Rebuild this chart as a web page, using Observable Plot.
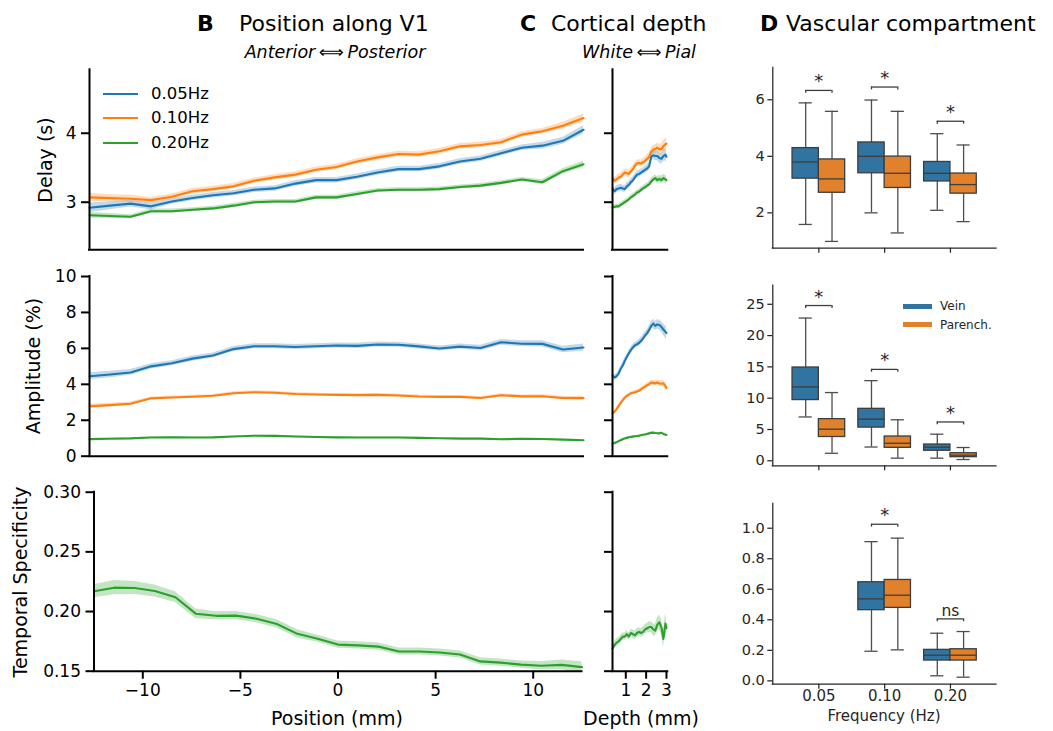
<!DOCTYPE html>
<html><head><meta charset="utf-8">
<script src="https://cdn.jsdelivr.net/npm/d3@7"></script>
<script src="https://cdn.jsdelivr.net/npm/@observablehq/plot@0.6"></script>
<style>
body{margin:0;background:#fff;}
#fig{position:relative;width:1053px;height:731px;overflow:hidden;font-family:"DejaVu Sans",sans-serif;color:#000;background:#fff;}
#fig svg{position:absolute;left:0;top:0;}
.lbl{position:absolute;white-space:nowrap;line-height:1;}
.sw{position:absolute;}
</style></head><body><div id="fig"></div>
<script>
// ---------------- DATA ----------------
const freqNames = ["0.05Hz", "0.10Hz", "0.20Hz"];
const seriesColors = ["#1f77b4", "#ff7f0e", "#2ca02c"];

// Panel B: position along V1 (mm)
const posB = [-12.5, -11.46, -10.42, -9.38, -8.33, -7.29, -6.25, -5.21, -4.17, -3.13, -2.08, -1.04, 0, 1.04, 2.08, 3.13, 4.17, 5.21, 6.25, 7.29, 8.33, 9.38, 10.42, 11.46, 12.5];
const delayB05 = [2.92, 2.95, 2.98, 2.94, 3.01, 3.06, 3.10, 3.13, 3.18, 3.20, 3.27, 3.32, 3.32, 3.37, 3.43, 3.48, 3.48, 3.52, 3.59, 3.63, 3.71, 3.79, 3.82, 3.89, 4.05];
const delayB10 = [3.07, 3.06, 3.05, 3.03, 3.08, 3.16, 3.19, 3.23, 3.31, 3.36, 3.40, 3.47, 3.51, 3.59, 3.65, 3.70, 3.69, 3.74, 3.81, 3.83, 3.87, 3.98, 4.03, 4.11, 4.22];
const delayB20 = [2.81, 2.80, 2.79, 2.87, 2.87, 2.89, 2.91, 2.95, 3.00, 3.01, 3.01, 3.07, 3.07, 3.12, 3.17, 3.18, 3.18, 3.19, 3.22, 3.24, 3.28, 3.33, 3.29, 3.45, 3.55];
const delayB05Err = [0.07, 0.06, 0.05, 0.05, 0.04, 0.04, 0.04, 0.04, 0.04, 0.04, 0.04, 0.04, 0.04, 0.04, 0.04, 0.04, 0.04, 0.04, 0.04, 0.04, 0.04, 0.04, 0.05, 0.05, 0.06];
const delayB10Err = [0.06, 0.05, 0.05, 0.04, 0.04, 0.04, 0.04, 0.04, 0.04, 0.04, 0.04, 0.04, 0.04, 0.04, 0.04, 0.04, 0.04, 0.04, 0.04, 0.04, 0.04, 0.04, 0.04, 0.05, 0.06];
const delayB20Err = [0.04, 0.035, 0.03, 0.03, 0.03, 0.03, 0.03, 0.03, 0.03, 0.03, 0.03, 0.03, 0.03, 0.03, 0.03, 0.03, 0.03, 0.03, 0.03, 0.03, 0.03, 0.03, 0.035, 0.04, 0.045];
const ampB05 = [4.45, 4.55, 4.66, 5.00, 5.17, 5.43, 5.60, 5.96, 6.12, 6.12, 6.08, 6.12, 6.16, 6.14, 6.22, 6.20, 6.11, 5.99, 6.10, 6.02, 6.34, 6.26, 6.25, 5.94, 6.05];
const ampB10 = [2.78, 2.84, 2.92, 3.22, 3.27, 3.31, 3.36, 3.50, 3.56, 3.53, 3.46, 3.43, 3.41, 3.40, 3.41, 3.38, 3.32, 3.30, 3.30, 3.24, 3.39, 3.33, 3.34, 3.24, 3.23];
const ampB20 = [0.95, 0.97, 0.99, 1.04, 1.05, 1.04, 1.05, 1.10, 1.14, 1.13, 1.10, 1.07, 1.05, 1.04, 1.04, 1.04, 1.02, 1.00, 0.98, 0.98, 0.94, 0.97, 0.96, 0.92, 0.89];
const ampB05Err = [0.2, 0.18, 0.16, 0.15, 0.14, 0.14, 0.14, 0.14, 0.14, 0.14, 0.14, 0.14, 0.14, 0.14, 0.14, 0.14, 0.14, 0.14, 0.14, 0.15, 0.16, 0.16, 0.17, 0.18, 0.2];
const ampB10Err = [0.12, 0.1, 0.09, 0.08, 0.08, 0.08, 0.08, 0.08, 0.08, 0.08, 0.08, 0.08, 0.08, 0.08, 0.08, 0.08, 0.08, 0.08, 0.08, 0.08, 0.08, 0.08, 0.09, 0.1, 0.1];
const ampB20Err = [0.04, 0.04, 0.03, 0.03, 0.03, 0.03, 0.03, 0.03, 0.03, 0.03, 0.03, 0.03, 0.03, 0.03, 0.03, 0.03, 0.03, 0.03, 0.03, 0.03, 0.03, 0.03, 0.03, 0.03, 0.04];
const tsB20 = [0.2170, 0.2200, 0.2197, 0.2172, 0.2120, 0.1982, 0.1964, 0.1966, 0.1940, 0.1896, 0.1813, 0.1772, 0.1723, 0.1716, 0.1706, 0.1665, 0.1665, 0.1657, 0.1640, 0.1582, 0.1572, 0.1555, 0.1546, 0.1553, 0.1534];
const tsB20Err = [0.0055, 0.006, 0.0055, 0.005, 0.0045, 0.004, 0.0035, 0.0035, 0.0035, 0.0035, 0.0035, 0.003, 0.003, 0.003, 0.003, 0.003, 0.003, 0.003, 0.003, 0.003, 0.003, 0.003, 0.0035, 0.004, 0.0045];

// Panel C: cortical depth (mm)
const depthC = [0.35, 0.45, 0.55, 0.65, 0.75, 0.85, 0.95, 1.05, 1.15, 1.25, 1.35, 1.45, 1.55, 1.65, 1.75, 1.85, 1.95, 2.05, 2.15, 2.25, 2.35, 2.45, 2.55, 2.65, 2.75, 2.85, 2.95, 3.0];
const delayC05 = [3.19, 3.16, 3.19, 3.20, 3.21, 3.20, 3.19, 3.23, 3.25, 3.29, 3.32, 3.36, 3.40, 3.41, 3.43, 3.45, 3.47, 3.49, 3.52, 3.66, 3.68, 3.67, 3.67, 3.64, 3.63, 3.67, 3.69, 3.66];
const delayC10 = [3.35, 3.31, 3.33, 3.36, 3.37, 3.40, 3.43, 3.42, 3.41, 3.45, 3.48, 3.53, 3.56, 3.57, 3.56, 3.58, 3.60, 3.63, 3.66, 3.73, 3.76, 3.77, 3.79, 3.77, 3.77, 3.81, 3.84, 3.85];
const delayC20 = [2.93, 2.93, 2.94, 2.94, 2.96, 2.98, 3.00, 3.02, 3.04, 3.07, 3.09, 3.11, 3.14, 3.15, 3.18, 3.20, 3.22, 3.24, 3.26, 3.30, 3.33, 3.35, 3.32, 3.34, 3.32, 3.35, 3.33, 3.32];
const delayC05Err = [0.05, 0.05, 0.05, 0.05, 0.05, 0.05, 0.05, 0.05, 0.05, 0.05, 0.05, 0.05, 0.05, 0.05, 0.05, 0.05, 0.055, 0.055, 0.06, 0.06, 0.06, 0.065, 0.07, 0.07, 0.075, 0.08, 0.09, 0.09];
const delayC10Err = [0.05, 0.05, 0.05, 0.05, 0.05, 0.05, 0.05, 0.05, 0.05, 0.05, 0.05, 0.05, 0.05, 0.05, 0.05, 0.05, 0.055, 0.055, 0.06, 0.06, 0.06, 0.065, 0.07, 0.07, 0.075, 0.08, 0.085, 0.09];
const delayC20Err = [0.035, 0.035, 0.035, 0.035, 0.035, 0.035, 0.035, 0.035, 0.035, 0.035, 0.035, 0.035, 0.035, 0.035, 0.04, 0.04, 0.04, 0.04, 0.04, 0.045, 0.045, 0.05, 0.05, 0.05, 0.055, 0.055, 0.06, 0.06];
const ampC05 = [4.48, 4.38, 4.45, 4.60, 4.85, 5.05, 5.30, 5.52, 5.72, 5.90, 6.05, 6.17, 6.23, 6.30, 6.42, 6.55, 6.72, 6.85, 7.03, 7.25, 7.38, 7.25, 7.33, 7.30, 7.20, 7.05, 6.92, 6.85];
const ampC10 = [2.38, 2.48, 2.62, 2.80, 2.97, 3.12, 3.25, 3.35, 3.42, 3.50, 3.53, 3.55, 3.60, 3.64, 3.72, 3.80, 3.87, 3.95, 4.00, 4.10, 4.08, 4.05, 4.10, 4.05, 4.03, 4.06, 3.90, 3.80];
const ampC20 = [0.70, 0.73, 0.78, 0.84, 0.89, 0.94, 0.99, 1.02, 1.05, 1.07, 1.09, 1.11, 1.12, 1.14, 1.17, 1.19, 1.21, 1.24, 1.27, 1.30, 1.31, 1.29, 1.28, 1.27, 1.30, 1.24, 1.20, 1.18];
const ampC05Err = [0.15, 0.15, 0.15, 0.15, 0.15, 0.15, 0.16, 0.16, 0.16, 0.17, 0.17, 0.17, 0.18, 0.18, 0.18, 0.19, 0.2, 0.2, 0.21, 0.22, 0.24, 0.25, 0.27, 0.28, 0.3, 0.32, 0.34, 0.35];
const ampC10Err = [0.08, 0.08, 0.08, 0.08, 0.08, 0.08, 0.09, 0.09, 0.09, 0.09, 0.09, 0.1, 0.1, 0.1, 0.1, 0.1, 0.11, 0.11, 0.12, 0.12, 0.13, 0.13, 0.14, 0.15, 0.16, 0.17, 0.18, 0.19];
const ampC20Err = [0.04, 0.04, 0.04, 0.04, 0.04, 0.04, 0.04, 0.04, 0.04, 0.04, 0.04, 0.04, 0.04, 0.04, 0.04, 0.04, 0.04, 0.04, 0.045, 0.045, 0.05, 0.05, 0.05, 0.05, 0.05, 0.055, 0.06, 0.06];
const tsC20 = [0.169, 0.172, 0.174, 0.175, 0.177, 0.179, 0.179, 0.181, 0.179, 0.182, 0.181, 0.180, 0.182, 0.183, 0.182, 0.183, 0.185, 0.186, 0.187, 0.187, 0.185, 0.184, 0.189, 0.191, 0.187, 0.177, 0.190, 0.186];
const tsC20Err = [0.003, 0.003, 0.003, 0.003, 0.003, 0.003, 0.003, 0.003, 0.003, 0.003, 0.0035, 0.0035, 0.0035, 0.0035, 0.0035, 0.004, 0.004, 0.004, 0.0045, 0.0045, 0.005, 0.005, 0.0055, 0.006, 0.0065, 0.007, 0.008, 0.008];

// Panel D: boxplots [whiskerLow, Q1, median, Q3, whiskerHigh] for 0.05, 0.10, 0.20 Hz
const boxFreqs = ["0.05", "0.10", "0.20"];
const compartments = ["Vein", "Parench."];
const compColors = ["#3274a1", "#e1812c"];
const delayVein = [[1.59, 3.21, 3.80, 4.29, 5.89], [2.00, 3.40, 4.00, 4.49, 5.99], [2.09, 3.11, 3.40, 3.80, 4.80]];
const delayParench = [[0.99, 2.71, 3.20, 3.89, 5.59], [1.29, 2.88, 3.40, 3.99, 5.59], [1.69, 2.68, 3.00, 3.39, 4.40]];
const delaySig = [6.33, 6.45, 5.24];
const delaySigText = ["*", "*", "*"];
const ampVein = [[7.0, 9.7, 11.8, 14.9, 22.8], [2.2, 5.3, 6.65, 8.3, 12.8], [0.42, 1.6, 2.17, 2.6, 4.25]];
const ampParench = [[1.2, 3.8, 5.05, 6.65, 10.9], [0.42, 2.07, 2.8, 3.88, 6.55], [0.2, 0.58, 0.9, 1.21, 2.12]];
const ampSig = [24.8, 14.6, 6.2];
const ampSigText = ["*", "*", "*"];
const tsVein = [null, [0.194, 0.463, 0.537, 0.646, 0.912], [0.033, 0.133, 0.168, 0.203, 0.312]];
const tsParench = [null, [0.203, 0.478, 0.561, 0.661, 0.935], [0.024, 0.133, 0.168, 0.207, 0.323]];
const tsSig = [null, 1.026, 0.406];
const tsSigText = [null, "*", "ns"];

// ---------------- DRAWING ----------------
const W = 1053, H = 731;
const fig = document.getElementById("fig");

function place(rect, opts) {
  const [x0, y0, x1, y1] = rect;
  const svg = Plot.plot({
    width: W, height: H,
    marginLeft: x0, marginRight: W - x1, marginTop: y0, marginBottom: H - y1,
    style: {background: "transparent", fontFamily: "DejaVu Sans, sans-serif", overflow: "visible", color: "black"},
    ...opts
  });
  fig.appendChild(svg);
}

function rowsOf(xs, ys, es) {
  return xs.map((x, i) => ({x, y: ys[i], lo: ys[i] - es[i], hi: ys[i] + es[i]}));
}
function lineMarks(xs, list) {
  return list.flatMap(([ys, es, c]) => {
    const d = rowsOf(xs, ys, es);
    return [
      Plot.areaY(d, {x: "x", y1: "lo", y2: "hi", fill: c, fillOpacity: 0.28}),
      Plot.line(d, {x: "x", y: "y", stroke: c, strokeWidth: 2.1})
    ];
  });
}
function spines(xmin, ymin, c, w) {
  return [
    Plot.ruleX([xmin], {stroke: c, strokeWidth: w, strokeLinecap: "square"}),
    Plot.ruleY([ymin], {stroke: c, strokeWidth: w, strokeLinecap: "square"})
  ];
}
const fmtInt = d3.format("d");
const blank = () => "";
const yAxisB = (ticks, fmt) => Plot.axisY({ticks, tickFormat: fmt, tickSize: 8, tickPadding: 5, fontSize: 17, strokeWidth: 2, label: null});

const xB = {domain: [-12.5, 12.5]};
const xC = {domain: [0.346, 3.065]};
const yDelay = [2.31, 4.92], yAmp = [0, 10], yTS = [0.15, 0.30];

// B row 1
place([89, 69.3, 583, 249.3], {
  x: {...xB, axis: null}, y: {domain: yDelay},
  marks: [...lineMarks(posB, [[delayB05, delayB05Err, seriesColors[0]], [delayB10, delayB10Err, seriesColors[1]], [delayB20, delayB20Err, seriesColors[2]]]),
    yAxisB([3, 4], fmtInt), ...spines(-12.5, yDelay[0], "black", 2)]
});
// B row 2
place([89, 276, 583, 455.7], {
  x: {...xB, axis: null}, y: {domain: yAmp},
  marks: [...lineMarks(posB, [[ampB05, ampB05Err, seriesColors[0]], [ampB10, ampB10Err, seriesColors[1]], [ampB20, ampB20Err, seriesColors[2]]]),
    yAxisB([0, 2, 4, 6, 8, 10], fmtInt), ...spines(-12.5, 0, "black", 2)]
});
// B row 3
place([93.5, 491.7, 581.5, 670.7], {
  x: xB, y: {domain: yTS},
  marks: [...lineMarks(posB, [[tsB20, tsB20Err, seriesColors[2]]]),
    yAxisB([0.15, 0.20, 0.25, 0.30], d3.format(".2f")),
    Plot.axisX({ticks: [-10, -5, 0, 5, 10], tickFormat: fmtInt, tickSize: 8, tickPadding: 5, fontSize: 17, strokeWidth: 2, label: null}),
    ...spines(-12.5, 0.15, "black", 2)]
});
// C row 1
place([612, 69.3, 667.3, 249.3], {
  x: {...xC, axis: null}, y: {domain: yDelay},
  marks: [...lineMarks(depthC, [[delayC05, delayC05Err, seriesColors[0]], [delayC10, delayC10Err, seriesColors[1]], [delayC20, delayC20Err, seriesColors[2]]]),
    yAxisB([3, 4], blank), ...spines(xC.domain[0], yDelay[0], "black", 2)]
});
// C row 2
place([612, 276, 667.3, 455.7], {
  x: {...xC, axis: null}, y: {domain: yAmp},
  marks: [...lineMarks(depthC, [[ampC05, ampC05Err, seriesColors[0]], [ampC10, ampC10Err, seriesColors[1]], [ampC20, ampC20Err, seriesColors[2]]]),
    yAxisB([0, 2, 4, 6, 8, 10], blank), ...spines(xC.domain[0], 0, "black", 2)]
});
// C row 3
place([612, 491.7, 667.3, 670.7], {
  x: xC, y: {domain: yTS},
  marks: [...lineMarks(depthC, [[tsC20, tsC20Err, seriesColors[2]]]),
    yAxisB([0.15, 0.20, 0.25, 0.30], blank),
    Plot.axisX({ticks: [1, 2, 3], tickFormat: fmtInt, tickSize: 8, tickPadding: 5, fontSize: 17, strokeWidth: 2, label: null}),
    ...spines(xC.domain[0], 0.15, "black", 2)]
});

// D panels
const dGray = "#262626", edge = "#3d3d3d", whisk = "#4d4d4d";
function boxRows(vein, par) {
  const out = [];
  [vein, par].forEach((arr, j) => arr.forEach((s, i) => {
    if (!s) return;
    const xc = i - 0.2 + j * 0.4;
    out.push({xc, x1: xc - 0.2, x2: xc + 0.2, low: s[0], q1: s[1], med: s[2], q3: s[3], high: s[4], fill: compColors[j]});
  }));
  return out;
}
function sigRows(ys, txt) {
  return ys.map((y, i) => ({i, y, t: txt[i]})).filter(d => d.y != null);
}
function boxPanel(rect, ydom, yticks, yfmt, vein, par, sigY, sigT, xlabels) {
  const boxes = boxRows(vein, par);
  const sig = sigRows(sigY, sigT);
  const leg = 0.016 * (ydom[1] - ydom[0]);
  place(rect, {
    x: {domain: [-0.7, 2.7]}, y: {domain: ydom},
    marks: [
      Plot.ruleX(boxes, {x: "xc", y1: "low", y2: "q1", stroke: whisk, strokeWidth: 1.3}),
      Plot.ruleX(boxes, {x: "xc", y1: "q3", y2: "high", stroke: whisk, strokeWidth: 1.3}),
      Plot.ruleY(boxes, {y: "low", x1: d => d.xc - 0.1, x2: d => d.xc + 0.1, stroke: whisk, strokeWidth: 1.3}),
      Plot.ruleY(boxes, {y: "high", x1: d => d.xc - 0.1, x2: d => d.xc + 0.1, stroke: whisk, strokeWidth: 1.3}),
      Plot.rect(boxes, {x1: "x1", x2: "x2", y1: "q1", y2: "q3", fill: "fill", stroke: edge, strokeWidth: 1.3}),
      Plot.ruleY(boxes, {y: "med", x1: "x1", x2: "x2", stroke: edge, strokeWidth: 1.3}),
      Plot.ruleY(sig, {y: "y", x1: d => d.i - 0.2, x2: d => d.i + 0.2, stroke: edge, strokeWidth: 1.3}),
      Plot.ruleX(sig, {x: d => d.i - 0.2, y1: "y", y2: d => d.y - leg, stroke: edge, strokeWidth: 1.3}),
      Plot.ruleX(sig, {x: d => d.i + 0.2, y1: "y", y2: d => d.y - leg, stroke: edge, strokeWidth: 1.3}),
      Plot.text(sig, {x: "i", y: "y", text: "t", dy: -3, lineAnchor: "bottom", fontSize: d => d.t === "ns" ? 15.5 : 18, fill: dGray}),
      Plot.axisY({ticks: yticks, tickFormat: yfmt, tickSize: 5, tickPadding: 3, fontSize: 14.5, stroke: dGray, fill: dGray, strokeWidth: 1.25, label: null}),
      Plot.axisX({ticks: [0, 1, 2], tickFormat: xlabels ? (i => boxFreqs[i]) : blank, tickSize: 5, tickPadding: 1, fontSize: 15, stroke: dGray, fill: dGray, strokeWidth: 1.25, label: null}),
      ...spines(-0.7, ydom[0], dGray, 1.25)
    ]
  });
}
boxPanel([772.3, 67.3, 996, 247.7], [0.75, 7.13], [2, 4, 6], fmtInt, delayVein, delayParench, delaySig, delaySigText, false);
boxPanel([772.3, 285, 996, 465.3], [-0.8, 28.0], [0, 5, 10, 15, 20, 25], fmtInt, ampVein, ampParench, ampSig, ampSigText, false);
boxPanel([772.3, 503.3, 996, 683.7], [-0.022, 1.16], [0, 0.2, 0.4, 0.6, 0.8, 1.0], d3.format(".1f"), tsVein, tsParench, tsSig, tsSigText, true);

// ---------------- TEXT ----------------
function label(txt, x, y, o = {}) {
  const d = document.createElement("div");
  d.className = "lbl";
  d.textContent = txt;
  d.style.left = x + "px"; d.style.top = y + "px";
  d.style.fontSize = (o.size || 17) + "px";
  if (o.bold) d.style.fontWeight = "bold";
  if (o.italic) d.style.fontStyle = "italic";
  if (o.color) d.style.color = o.color;
  const tx = o.anchor === "start" ? "0" : "-50%";
  d.style.transform = `translate(${tx},-50%)` + (o.rotate ? " rotate(-90deg)" : "");
  fig.appendChild(d);
}
function swatch(x, y, w, h, c) {
  const d = document.createElement("div");
  d.className = "sw";
  Object.assign(d.style, {left: x + "px", top: (y - h / 2) + "px", width: w + "px", height: h + "px", background: c});
  fig.appendChild(d);
}
// headers
label("B", 197, 24, {size: 22, bold: true, anchor: "start"});
label("Position along V1", 239, 24, {size: 22, anchor: "start"});
label("Anterior\u2009\u27FA\u2009Posterior", 335, 53, {size: 17.5, italic: true});
label("C", 520, 24, {size: 22, bold: true, anchor: "start"});
label("Cortical depth", 551, 24, {size: 22, anchor: "start"});
label("White\u2009\u27FA\u2009Pial", 639, 53, {size: 17.5, italic: true});
label("D", 760, 24, {size: 22, bold: true, anchor: "start"});
label("Vascular compartment", 786, 24, {size: 22, anchor: "start"});
// axis labels
label("Delay (s)", 45, 160, {size: 19, rotate: true});
label("Amplitude (%)", 33, 366, {size: 19, rotate: true});
label("Temporal Specificity", 20, 582, {size: 19, rotate: true});
label("Position (mm)", 337, 718, {size: 19});
label("Depth (mm)", 641, 718, {size: 19});
label("Frequency (Hz)", 884, 716, {size: 15, color: "#262626"});
// legend B
freqNames.forEach((n, i) => {
  const y = 94 + i * 24.3;
  swatch(103, y, 35, 2.2, seriesColors[i]);
  label(n, 151, y, {size: 16.5, anchor: "start"});
});
// legend D
compartments.forEach((n, i) => {
  const y = 306 + i * 18.5;
  swatch(903, y, 29, 5, compColors[i]);
  label(n, 940, y, {size: 12, anchor: "start", color: "#262626"});
});
</script></body></html>
